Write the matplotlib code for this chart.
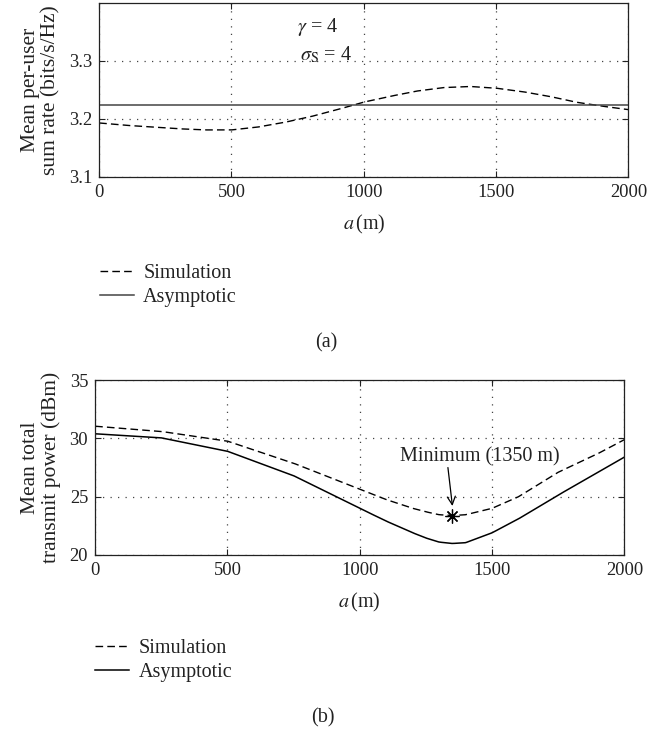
import numpy as np
import matplotlib
matplotlib.use("Agg")
import matplotlib.pyplot as plt

plt.rcParams['font.family'] = ['Liberation Serif', 'DejaVu Serif']
plt.rcParams['mathtext.fontset'] = 'stix'
plt.rcParams['font.size'] = 14.5

#### data (a): mean per-user sum rate
a_top = [0, 100, 200, 300, 400, 500, 600, 700, 800, 900, 1000,
         1100, 1200, 1300, 1400, 1500, 1600, 1700, 1800, 1900, 2000]
rate_sim = [3.193, 3.189, 3.186, 3.183, 3.181, 3.181, 3.186, 3.194, 3.204, 3.216, 3.229,
            3.239, 3.248, 3.254, 3.256, 3.253, 3.247, 3.239, 3.229, 3.222, 3.216]
rate_asym = 3.2245

#### data (b): mean total transmit power
a_bot = [0, 250, 500, 750, 1000, 1100, 1200, 1250, 1300, 1350, 1400, 1500,
         1600, 1750, 1900, 2000]
pow_sim = [31.05, 30.6, 29.77, 27.87, 25.65, 24.75, 24.0, 23.7, 23.45, 23.38, 23.45, 24.0,
           25.0, 27.1, 28.7, 29.9]
pow_asym = [30.4, 30.05, 28.9, 26.8, 24.0, 22.9, 21.9, 21.45, 21.1, 20.98, 21.05, 21.9,
            23.1, 25.14, 27.1, 28.4]
min_a = 1350
min_p = 23.38

text_col = '#222222'
dash = (0, (5.5, 3.0))


def style_axes(ax):
    ax.grid(True, color='#444444', linestyle=(0, (1, 5)), linewidth=0.9)
    ax.tick_params(direction='in', top=True, right=True, length=4, colors=text_col,
                   labelcolor=text_col, pad=5, labelsize=13.3)
    for s in ax.spines.values():
        s.set_linewidth(0.9)
        s.set_color('#222222')
    ax.set_xlim(0, 2000)
    ax.set_xticks([0, 500, 1000, 1500, 2000])
    ax.set_xlabel(r'$a\,$(m)', color=text_col, labelpad=8.5)


def add_legend(ax, x, y):
    ax.legend(loc='upper left', bbox_to_anchor=(x, y), bbox_transform=fig.transFigure,
              frameon=False, handlelength=1.7, handletextpad=0.45, labelspacing=0.25,
              borderpad=0, borderaxespad=0, labelcolor=text_col)


fig = plt.figure(figsize=(6.7, 7.34), dpi=100)

# (a)
ax1 = fig.add_axes([0.148, 0.759, 0.790, 0.237])
x1 = np.linspace(0, 2000, 400)
ax1.plot(x1, np.interp(x1, a_top, rate_sim), color='black', linestyle=dash, linewidth=1.0,
         label='Simulation')
ax1.axhline(rate_asym, color='#444444', linewidth=1.1, label='Asymptotic')
ax1.set_ylim(3.1, 3.4)
ax1.set_yticks([3.1, 3.2, 3.3])
ax1.set_ylabel('Mean per-user\nsum rate (bits/s/Hz)', color=text_col, linespacing=1.1,
               labelpad=6, fontsize=15.5)
style_axes(ax1)
ax1.text(749, 3.359, r'$\gamma$ = 4', color=text_col, va='center')
ax1.text(760, 3.310, r'$\sigma_{\mathrm{S}}$ = 4', color=text_col, va='center')
add_legend(ax1, 0.149, 0.641)
fig.text(0.487, 0.533, '(a)', ha='center', va='center', color=text_col)

# (b)
ax2 = fig.add_axes([0.142, 0.244, 0.790, 0.238])
x2 = np.linspace(0, 2000, 400)
ax2.plot(x2, np.interp(x2, a_bot, pow_sim), color='black', linestyle=dash, linewidth=1.0,
         label='Simulation')
ax2.plot(x2, np.interp(x2, a_bot, pow_asym), color='black', linewidth=1.1, label='Asymptotic')
ax2.plot(min_a, min_p, marker=(8, 2, 0), markersize=10, color='black', markeredgewidth=0.9,
         linestyle='none')
ax2.set_ylim(20, 35)
ax2.set_yticks([20, 25, 30, 35])
ax2.set_ylabel('Mean total\ntransmit power (dBm)', color=text_col, linespacing=1.1,
               labelpad=6, fontsize=15.5)
style_axes(ax2)
ax2.text(1453, 28.4, 'Minimum (1350 m)', ha='center', va='center', color=text_col)
ax2.annotate('', xy=(1350, 24.2), xytext=(1333, 27.5),
             arrowprops=dict(arrowstyle='->', color='black', lw=0.9,
                             shrinkA=0, shrinkB=0))
add_legend(ax2, 0.142, 0.130)
fig.text(0.482, 0.022, '(b)', ha='center', va='center', color=text_col)

fig.savefig('out.png', dpi=100)
